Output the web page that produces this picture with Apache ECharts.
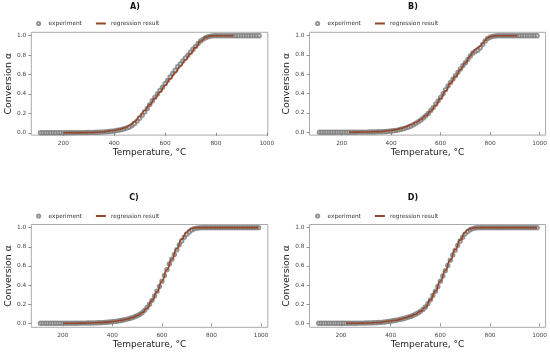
<!DOCTYPE html>
<html>
<head>
<meta charset="utf-8">
<script src="https://cdn.jsdelivr.net/npm/echarts@6/dist/echarts.min.js"></script>
<style>
html,body{margin:0;padding:0;background:#fff;}
#chart{width:550px;height:355px;}
</style>
</head>
<body>
<div id="chart"></div>
<script>
// ---- data ----
const panelTitles = ['A)', 'B)', 'C)', 'D)'];
const xTicks = [200, 400, 600, 800, 1000];
const yTicks = [0, 0.2, 0.4, 0.6, 0.8, 1.0];

// experiment temperatures (°C)
const expT = [110,120,130,140,150,160,170,180,190,200,210,220,230,240,250,260,270,280,290,300,
  310,320,330,340,350,360,370,380,390,400,410,420,430,440,450,460,470,480,490,500,
  510,520,530,540,550,560,570,580,590,600,610,620,630,640,650,660,670,680,690,700,
  710,720,730,740,750,760,770,780,790,800,810,820,830,840,850,860,870,880,890,900,
  910,920,930,940,950,960,970,980,990];

// experiment conversion (A ends at 970, others at 990)
const expA = [0,0,0,0,0,0,0,0,0,0,0,0,0.001,0.001,0.001,0.002,0.002,0.002,0.003,0.003,
  0.004,0.004,0.005,0.006,0.007,0.009,0.011,0.013,0.016,0.019,0.023,0.028,0.034,0.041,0.05,0.06,0.075,0.095,0.12,0.15,
  0.18,0.215,0.25,0.29,0.33,0.365,0.40,0.435,0.47,0.505,0.54,0.575,0.61,0.645,0.68,0.71,0.74,0.77,0.80,0.83,
  0.86,0.89,0.92,0.945,0.965,0.98,0.99,0.996,0.999,1,1,1,1,1,1,1,1,1,1,1,
  1,1,1,1,1,1,1];
const expB = [0,0,0,0,0,0,0,0,0,0,0,0,0,0,0,0,0.001,0.001,0.001,0.001,
  0.002,0.002,0.002,0.003,0.004,0.005,0.006,0.008,0.01,0.012,0.015,0.019,0.024,0.03,0.037,0.045,0.054,0.065,0.078,0.092,
  0.108,0.126,0.147,0.17,0.195,0.225,0.255,0.29,0.325,0.36,0.40,0.44,0.48,0.515,0.55,0.585,0.62,0.655,0.69,0.72,
  0.755,0.79,0.82,0.835,0.85,0.875,0.91,0.945,0.97,0.985,0.993,0.997,0.999,1,1,1,1,1,1,1,
  1,1,1,1,1,1,1,1,1];
const expC = [0,0,0,0,0,0,0,0,0,0,0,0,0.001,0.001,0.001,0.001,0.002,0.002,0.002,0.003,
  0.003,0.004,0.004,0.005,0.006,0.007,0.009,0.011,0.013,0.016,0.019,0.023,0.027,0.032,0.038,0.044,0.051,0.059,0.068,0.078,
  0.092,0.11,0.135,0.165,0.2,0.24,0.285,0.335,0.385,0.44,0.5,0.56,0.62,0.67,0.72,0.77,0.82,0.86,0.9,0.93,
  0.955,0.975,0.988,0.995,0.998,1,1,1,1,1,1,1,1,1,1,1,1,1,1,1,
  1,1,1,1,1,1,1,1,1];
const expD = [0,0,0,0,0,0,0,0,0,0,0,0,0.001,0.001,0.001,0.001,0.002,0.002,0.002,0.003,
  0.004,0.004,0.005,0.006,0.008,0.01,0.012,0.015,0.018,0.022,0.026,0.031,0.036,0.042,0.048,0.055,0.063,0.072,0.082,0.094,
  0.108,0.125,0.145,0.17,0.205,0.245,0.29,0.335,0.385,0.44,0.495,0.55,0.605,0.66,0.715,0.765,0.815,0.86,0.9,0.935,
  0.96,0.978,0.99,0.996,0.999,1,1,1,1,1,1,1,1,1,1,1,1,1,1,1,
  1,1,1,1,1,1,1,1,1];

// regression result curves
const regTA = [200,250,300,350,400,420,440,460,480,500,520,540,560,580,600,620,640,660,680,700,720,740,760,780,800,870];
const regA  = [0,0.001,0.003,0.008,0.024,0.035,0.05,0.075,0.115,0.17,0.23,0.29,0.355,0.42,0.49,0.555,0.62,0.685,0.75,0.815,0.88,0.945,0.985,0.998,1,1];
const regTB = [230,260,300,350,400,420,440,460,480,500,520,540,560,580,600,620,640,660,680,700,720,730,740,750,760,770,780,790,800,820,840,910];
const regB  = [0,0.001,0.002,0.006,0.018,0.027,0.04,0.056,0.077,0.1,0.13,0.17,0.22,0.28,0.35,0.43,0.51,0.58,0.65,0.72,0.79,0.83,0.86,0.875,0.89,0.92,0.95,0.975,0.99,0.998,1,1];
const regTC = [200,250,300,350,400,420,440,460,480,500,520,540,560,580,600,620,640,660,680,700,710,720,740,990];
const regC  = [0,0.001,0.003,0.007,0.017,0.024,0.033,0.045,0.06,0.08,0.11,0.16,0.24,0.33,0.44,0.56,0.67,0.78,0.88,0.955,0.98,0.993,1,1];
const regTD = [220,260,300,350,400,420,440,460,480,500,520,540,560,580,600,620,640,660,680,700,710,720,740,760,990];
const regD  = [0,0.001,0.003,0.008,0.024,0.032,0.043,0.057,0.075,0.095,0.125,0.17,0.245,0.335,0.44,0.55,0.66,0.77,0.87,0.95,0.975,0.99,0.999,1,1];

// ---- layout ----
const panels = [
  {exp: expA, regT: regTA, reg: regA, left: 31.3, top: 32.3, xMin: 74, xMax: 1004, yMin: -0.024, yMax: 1.035, titleX: 135, titleY: 3, legX: 36, legY: 20.5},
  {exp: expB, regT: regTB, reg: regB, left: 309.5, top: 32.3, xMin: 70, xMax: 1024, yMin: -0.03, yMax: 1.035, titleX: 413, titleY: 3, legX: 315, legY: 20.5},
  {exp: expC, regT: regTC, reg: regC, left: 31.3, top: 224.5, xMin: 73, xMax: 1027, yMin: -0.042, yMax: 1.033, titleX: 134, titleY: 194, legX: 36, legY: 213},
  {exp: expD, regT: regTD, reg: regD, left: 309.5, top: 224.5, xMin: 73, xMax: 1024, yMin: -0.042, yMax: 1.033, titleX: 413, titleY: 194, legX: 315, legY: 213}
];
const gridW = 236.5, gridH = 102.8;
const FONT = 'DejaVu Sans';
const lineColor = '#94472b';
const markColor = '#7a7a7a';

const option = {
  animation: false,
  backgroundColor: '#fff',
  textStyle: {fontFamily: FONT},
  title: [], legend: [], grid: [], xAxis: [], yAxis: [], series: []
};

panels.forEach((p, i) => {
  option.title.push({
    text: panelTitles[i], left: p.titleX, top: p.titleY, textAlign: 'center',
    textStyle: {fontFamily: FONT, fontSize: 8, fontWeight: 'bold', color: '#111'}, padding: 0
  });
  option.legend.push({
    left: p.legX, top: p.legY, padding: 0, itemWidth: 10, itemHeight: 3.2, itemGap: 14,
    selectedMode: false,
    textStyle: {fontFamily: FONT, fontSize: 5.8, color: '#333'},
    data: [
      {name: 'experiment', icon: 'emptyCircle'},
      {name: 'regression result', icon: 'path://M0,0H10V2H0Z'}
    ]
  });
  option.grid.push({
    left: p.left, top: p.top, width: gridW, height: gridH,
    show: true, borderColor: '#aaa', borderWidth: 1, backgroundColor: 'transparent'
  });
  option.xAxis.push({
    type: 'value', gridIndex: i, min: p.xMin, max: p.xMax,
    axisLine: {show: false},
    axisTick: {show: true, customValues: xTicks, length: 3, lineStyle: {color: '#777', width: 0.8}},
    axisLabel: {customValues: xTicks, fontSize: 5.8, color: '#444', margin: 5, fontFamily: FONT,
      formatter: v => String(v)},
    splitLine: {show: false},
    name: 'Temperature, °C', nameLocation: 'middle', nameGap: 13,
    nameTextStyle: {fontFamily: FONT, fontSize: 9, color: '#222'}
  });
  option.yAxis.push({
    type: 'value', gridIndex: i, min: p.yMin, max: p.yMax,
    axisLine: {show: false},
    axisTick: {show: true, customValues: yTicks, length: 3, lineStyle: {color: '#777', width: 0.8}},
    axisLabel: {customValues: yTicks, fontSize: 5.8, color: '#444', margin: 5, fontFamily: FONT,
      formatter: v => v.toFixed(1)},
    splitLine: {show: false},
    name: 'Conversion α', nameLocation: 'middle', nameGap: 18,
    nameTextStyle: {fontFamily: FONT, fontSize: 9.4, color: '#222'}
  });
  option.series.push({
    type: 'scatter', name: 'experiment', xAxisIndex: i, yAxisIndex: i,
    symbol: 'emptyCircle', symbolSize: 3.4,
    itemStyle: {color: markColor, borderWidth: 0.5},
    data: p.exp.map((v, k) => [expT[k], v]), z: 2
  });
  option.series.push({
    type: 'line', name: 'regression result', xAxisIndex: i, yAxisIndex: i,
    showSymbol: false, smooth: 0.6, smoothMonotone: 'x',
    lineStyle: {color: lineColor, width: 1.6}, itemStyle: {color: lineColor},
    data: p.regT.map((t, k) => [t, p.reg[k]]), z: 3
  });
});

const chart = echarts.init(document.getElementById('chart'), null, {renderer: 'canvas'});
chart.setOption(option);
</script>
</body>
</html>
